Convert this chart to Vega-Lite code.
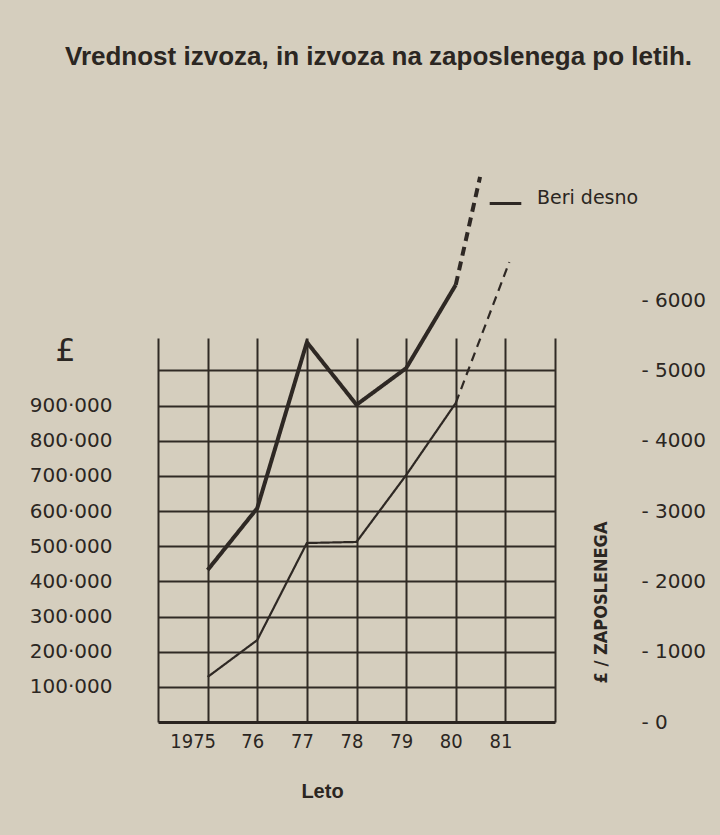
{
  "$schema": "https://vega.github.io/schema/vega-lite/v6.json",
  "width": 397,
  "height": 384,
  "autosize": {"type": "none"},
  "padding": {"left": 158, "top": 338, "right": 165, "bottom": 113},
  "background": "#d5cebe",
  "title": {
    "text": "Vrednost izvoza, in izvoza na zaposlenega po letih.",
    "anchor": "middle",
    "frame": "group",
    "offset": 99,
    "dx": 22,
    "font": "Liberation Sans",
    "fontSize": 26,
    "fontWeight": "bold",
    "color": "#2b2622"
  },
  "config": {
    "view": {"stroke": null},
    "axis": {"labelColor": "#2b2622", "titleColor": "#2b2622", "labelFlush": false, "labelOverlap": false}
  },
  "data": {
    "values": [
      {"leto": 1975, "serija": "izvoz", "del": "dejansko", "vrednost": 128000},
      {"leto": 1976, "serija": "izvoz", "del": "dejansko", "vrednost": 233000},
      {"leto": 1977, "serija": "izvoz", "del": "dejansko", "vrednost": 509000},
      {"leto": 1978, "serija": "izvoz", "del": "dejansko", "vrednost": 512000},
      {"leto": 1979, "serija": "izvoz", "del": "dejansko", "vrednost": 702000},
      {"leto": 1980, "serija": "izvoz", "del": "dejansko", "vrednost": 907000},
      {"leto": 1980, "serija": "izvoz", "del": "napoved", "vrednost": 907000},
      {"leto": 1981.08, "serija": "izvoz", "del": "napoved", "vrednost": 1308000},
      {"leto": 1975, "serija": "na zaposlenega", "del": "dejansko", "vrednost": 2160},
      {"leto": 1976, "serija": "na zaposlenega", "del": "dejansko", "vrednost": 3040},
      {"leto": 1977, "serija": "na zaposlenega", "del": "dejansko", "vrednost": 5400},
      {"leto": 1978, "serija": "na zaposlenega", "del": "dejansko", "vrednost": 4510},
      {"leto": 1979, "serija": "na zaposlenega", "del": "dejansko", "vrednost": 5030},
      {"leto": 1980, "serija": "na zaposlenega", "del": "dejansko", "vrednost": 6215},
      {"leto": 1980, "serija": "na zaposlenega", "del": "napoved", "vrednost": 6215},
      {"leto": 1980.49, "serija": "na zaposlenega", "del": "napoved", "vrednost": 7750}
    ]
  },
  "layer": [
    {
      "transform": [{"filter": "datum.serija == 'izvoz'"}],
      "mark": {"type": "line", "strokeWidth": 2.2, "color": "#2e2824"},
      "encoding": {
        "x": {
          "field": "leto",
          "type": "quantitative",
          "scale": {"domain": [1974, 1982], "nice": false, "zero": false},
          "axis": {
            "values": [1974, 1975, 1976, 1977, 1978, 1979, 1980, 1981, 1982],
            "grid": true,
            "gridColor": "#302a25",
            "gridWidth": 2,
            "gridOpacity": 1,
            "ticks": false,
            "domain": true,
            "domainColor": "#2a2420",
            "domainWidth": 3,
            "labelExpr": "datum.value == 1975 ? '1975' : (datum.value > 1975 && datum.value < 1982 ? slice(toString(datum.value), 2) : '')",
            "labelFont": "DejaVu Sans Condensed",
            "labelFontSize": 20,
            "labelPadding": 9,
            "labelOffset": {"condition": {"test": "datum.value == 1975", "value": -15}, "value": -5},
            "title": "Leto",
            "titleFont": "Liberation Sans",
            "titleFontSize": 20,
            "titleFontWeight": "bold",
            "titleX": 164,
            "titleY": 75,
            "titleAlign": "center",
            "titleBaseline": "alphabetic"
          }
        },
        "y": {
          "field": "vrednost",
          "type": "quantitative",
          "scale": {"domain": [0, 1092000], "nice": false},
          "axis": {
            "orient": "left",
            "values": [100000, 200000, 300000, 400000, 500000, 600000, 700000, 800000, 900000, 1000000],
            "grid": true,
            "gridColor": "#302a25",
            "gridWidth": 2,
            "gridOpacity": 1,
            "ticks": false,
            "domain": false,
            "offset": 40,
            "labelPadding": 6,
            "labelExpr": "datum.value >= 1000000 ? '' : replace(format(datum.value, ','), ',', '·')",
            "labelFont": "DejaVu Sans",
            "labelFontSize": 20,
            "title": "£",
            "titleAngle": 0,
            "titleX": -53,
            "titleY": 12,
            "titleAlign": "center",
            "titleBaseline": "middle",
            "titleFont": "DejaVu Sans",
            "titleFontSize": 32,
            "titleFontWeight": "normal"
          }
        },
        "strokeDash": {
          "field": "del",
          "type": "nominal",
          "scale": {"domain": ["dejansko", "napoved"], "range": [[1, 0], [9, 6]]},
          "legend": null
        }
      }
    },
    {
      "transform": [{"filter": "datum.serija == 'na zaposlenega'"}],
      "mark": {"type": "line", "strokeWidth": 4},
      "encoding": {
        "x": {"field": "leto", "type": "quantitative"},
        "y": {
          "field": "vrednost",
          "type": "quantitative",
          "scale": {"domain": [0, 6000], "range": [384, -38], "nice": false},
          "axis": {
            "orient": "right",
            "values": [0, 1000, 2000, 3000, 4000, 5000, 6000],
            "grid": false,
            "ticks": false,
            "domain": false,
            "offset": 80,
            "labelPadding": 6,
            "labelAlign": "left",
            "labelExpr": "'- ' + datum.value",
            "labelFont": "DejaVu Sans",
            "labelFontSize": 20,
            "title": "£ / ZAPOSLENEGA",
            "titleAngle": -90,
            "titleX": -34,
            "titleY": 264,
            "titleAlign": "center",
            "titleBaseline": "middle",
            "titleFont": "Liberation Sans Narrow, DejaVu Sans Condensed",
            "titleFontSize": 18,
            "titleFontWeight": "bold"
          }
        },
        "color": {
          "datum": "Beri desno",
          "scale": {"range": ["#2e2824"]},
          "legend": {
            "orient": "none",
            "legendX": 330,
            "legendY": -152,
            "title": null,
            "symbolType": "stroke",
            "symbolStrokeWidth": 3,
            "symbolSize": 1000,
            "labelFont": "DejaVu Sans",
            "labelFontSize": 19,
            "labelColor": "#2b2622",
            "labelOffset": 14,
            "labelBaseline": "alphabetic",
            "padding": 0
          }
        },
        "strokeDash": {"field": "del", "type": "nominal", "legend": null}
      }
    }
  ],
  "resolve": {"scale": {"y": "independent"}}
}
